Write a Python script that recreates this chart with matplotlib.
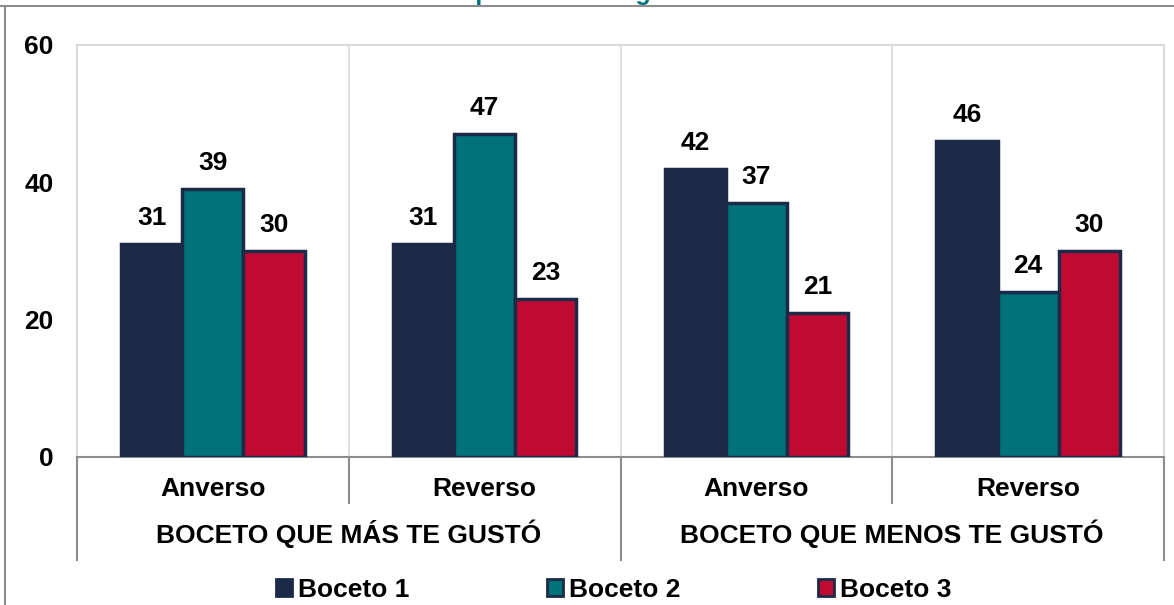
import matplotlib
matplotlib.use("Agg")
import matplotlib.pyplot as plt
from matplotlib.lines import Line2D
from matplotlib.patches import Patch
import numpy as np

plt.rcParams['font.family'] = ['Liberation Sans', 'DejaVu Sans']
plt.rcParams['font.weight'] = 'bold'

# data
categories = ["Anverso", "Reverso", "Anverso", "Reverso"]
groups = ["BOCETO QUE MÁS TE GUSTÓ", "BOCETO QUE MENOS TE GUSTÓ"]
series = ["Boceto 1", "Boceto 2", "Boceto 3"]
boceto1 = [31, 31, 42, 46]
boceto2 = [39, 47, 37, 24]
boceto3 = [30, 23, 21, 30]
yticks = [0, 20, 40, 60]

colors = ["#1B2A47", "#00727A", "#C00A32"]
edge = "#1B2A47"

W, H = 1174, 605
fig = plt.figure(figsize=(W / 100, H / 100), dpi=100)
ax = fig.add_axes([77 / W, 1 - 457 / H, (1164 - 77) / W, (457 - 45) / H])

x = np.arange(len(categories))
bw = 0.225
for i, (vals, c) in enumerate(zip([boceto1, boceto2, boceto3], colors)):
    pos = x + (i - 1) * bw
    ax.bar(pos, vals, bw, color=c, edgecolor=edge, linewidth=2.5, zorder=3)
    for px, v in zip(pos, vals):
        ax.annotate(str(v), (px, v), xytext=(0, 10), textcoords="offset points",
                    ha="center", va="bottom", fontsize=19, fontweight="bold")

ax.set_xlim(-0.5, len(categories) - 0.5)
ax.set_ylim(0, 60)
ax.set_yticks(yticks)
ax.set_yticklabels([str(t) for t in yticks], fontsize=19, fontweight="bold")
ax.tick_params(axis="y", length=0, pad=17)
ax.set_xticks([])

for s in ["left", "right", "top"]:
    ax.spines[s].set_color("#D9D9D9")
    ax.spines[s].set_linewidth(1.5)
ax.spines["bottom"].set_color("#8C8C8C")
ax.spines["bottom"].set_linewidth(1.5)
for b in [0.5, 1.5, 2.5]:
    ax.axvline(b, color="#D9D9D9", linewidth=1.2, zorder=1)

# two-level category axis
trans = ax.get_xaxis_transform()
for xi, lab in zip(x, categories):
    ax.text(xi, -0.077, lab, transform=trans, ha="center", va="center",
            fontsize=19, fontweight="bold")
for gi, lab in enumerate(groups):
    ax.text(gi * 2 + 0.5, -0.186, lab, transform=trans, ha="center", va="center",
            fontsize=19, fontweight="bold")
for b in [-0.5, 1.5, 3.5]:
    ax.add_line(Line2D([b, b], [0, -0.25], transform=trans, color="#8C8C8C",
                       linewidth=1.5, clip_on=False))
for b in [0.5, 2.5]:
    ax.add_line(Line2D([b, b], [0, -0.112], transform=trans, color="#8C8C8C",
                       linewidth=1.5, clip_on=False))

handles = [Patch(facecolor=c, edgecolor=edge, linewidth=2) for c in colors]
fig.legend(handles, series, loc="center", bbox_to_anchor=(0.523, 1 - 590 / H),
           ncol=3, frameon=False, handlelength=0.6, handleheight=0.6,
           handletextpad=0.25, columnspacing=5.2,
           prop={"weight": "bold", "size": 19})

# clipped title line and outer frame
fig.text(585 / W, 1.0, "que menos te gustó", ha="center", va="baseline",
         fontsize=18, fontweight="bold", color="#00727A")
fig.add_artist(Line2D([0, 1], [1 - 6 / H, 1 - 6 / H], transform=fig.transFigure,
                      color="#8C8C8C", linewidth=1.5))
fig.add_artist(Line2D([5 / W, 5 / W], [0, 1 - 6 / H], transform=fig.transFigure,
                      color="#8C8C8C", linewidth=1.5))

fig.savefig("out.png", dpi=100, facecolor="white")
